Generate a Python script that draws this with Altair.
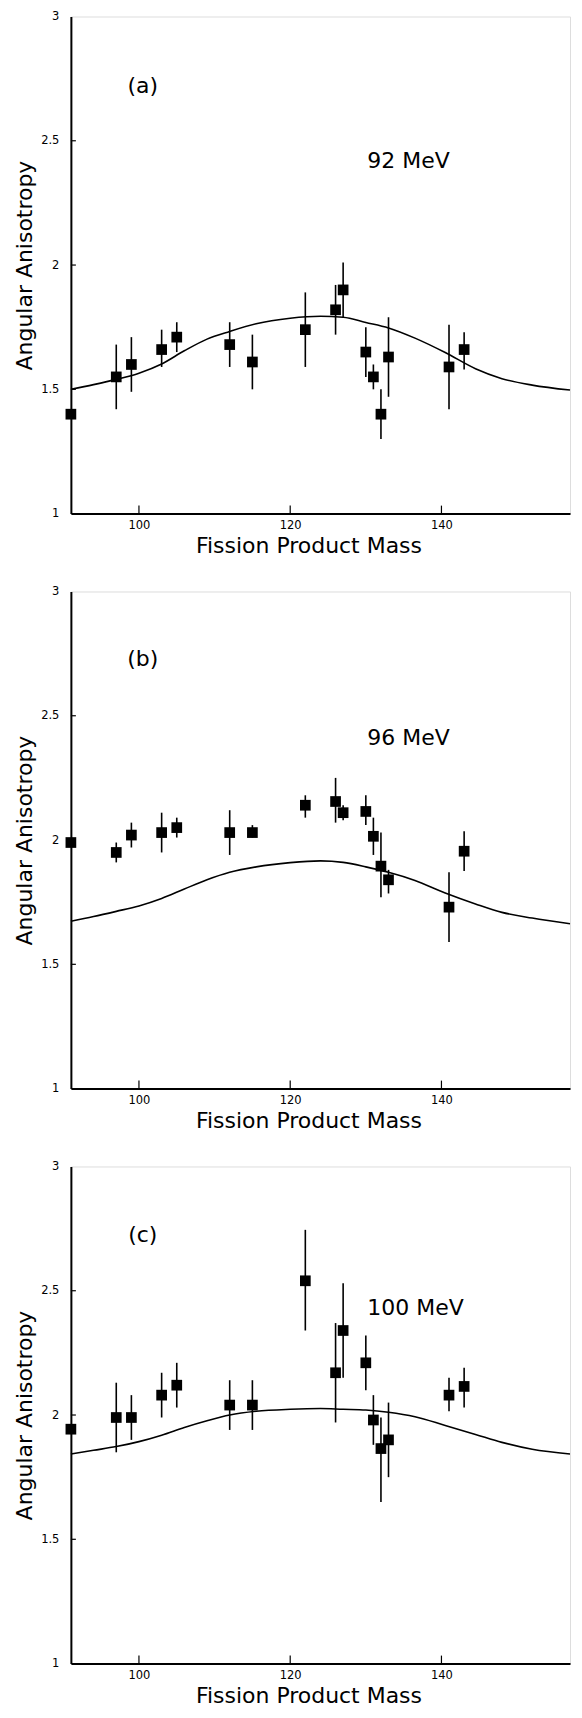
import altair as alt
import pandas as pd

# ---------------- data ----------------
masses = [91, 97, 99, 103, 105, 112, 115, 122, 126, 127, 130, 131, 132, 133, 141, 143]

a_val = [1.40, 1.55, 1.60, 1.66, 1.71, 1.68, 1.61, 1.74, 1.82, 1.90, 1.65, 1.55, 1.40, 1.63, 1.59, 1.66]
a_lo = [1.40, 1.42, 1.49, 1.59, 1.65, 1.59, 1.50, 1.59, 1.72, 1.79, 1.55, 1.50, 1.30, 1.47, 1.42, 1.58]
a_hi = [1.40, 1.68, 1.71, 1.74, 1.77, 1.77, 1.72, 1.89, 1.92, 2.01, 1.75, 1.60, 1.50, 1.79, 1.76, 1.73]

b_val = [1.99, 1.95, 2.02, 2.03, 2.05, 2.03, 2.03, 2.14, 2.155, 2.11, 2.115, 2.015, 1.895, 1.84, 1.73, 1.955]
b_lo = [1.99, 1.91, 1.97, 1.95, 2.01, 1.94, 2.01, 2.09, 2.07, 2.08, 2.06, 1.94, 1.77, 1.785, 1.59, 1.875]
b_hi = [1.99, 1.99, 2.07, 2.11, 2.09, 2.12, 2.06, 2.18, 2.25, 2.14, 2.18, 2.09, 2.03, 1.88, 1.87, 2.035]

c_val = [1.943, 1.99, 1.99, 2.08, 2.12, 2.04, 2.04, 2.54, 2.17, 2.34, 2.21, 1.98, 1.865, 1.90, 2.08, 2.115]
c_lo = [1.943, 1.85, 1.90, 1.99, 2.03, 1.94, 1.94, 2.34, 1.97, 2.15, 2.10, 1.88, 1.65, 1.75, 2.015, 2.03]
c_hi = [1.943, 2.13, 2.08, 2.17, 2.21, 2.14, 2.14, 2.745, 2.37, 2.53, 2.32, 2.08, 1.99, 2.05, 2.15, 2.19]

curve_x = [91, 94, 97, 100, 103, 106, 109, 112, 115.5, 120, 124, 127, 130, 133, 136.5, 140.5, 144.5, 148, 152, 157]
a_curve = [1.500, 1.519, 1.540, 1.565, 1.602, 1.655, 1.702, 1.733, 1.764, 1.786, 1.794, 1.790, 1.769, 1.747, 1.706, 1.648, 1.583, 1.543, 1.517, 1.497]
b_curve = [1.673, 1.692, 1.713, 1.735, 1.765, 1.803, 1.840, 1.870, 1.892, 1.909, 1.916, 1.910, 1.892, 1.870, 1.837, 1.787, 1.743, 1.709, 1.686, 1.663]
c_curve = [1.843, 1.858, 1.873, 1.893, 1.919, 1.950, 1.977, 2.000, 2.015, 2.023, 2.026, 2.023, 2.020, 2.011, 1.993, 1.958, 1.922, 1.890, 1.862, 1.843]

panel_labels = ["(a)", "(b)", "(c)"]
energy_labels = ["92 MeV", "96 MeV", "100 MeV"]
label_pos = [(100.5, 2.72), (100.5, 2.73), (100.5, 2.725)]
energy_pos = [(130.2, 2.42), (130.2, 2.41), (130.2, 2.43)]

x_ticks = [100, 120, 140]
y_ticks = [1.5, 2.0, 2.5]
x_domain = [91, 157]
y_domain = [1, 3]

FONT = "DejaVu Sans"
W, H = 500, 498


def panel(vals, los, his, curve, plabel, elabel, lpos, epos):
    pts = pd.DataFrame({"mass": masses, "val": vals, "lo": los, "hi": his})
    crv = pd.DataFrame({"mass": curve_x, "val": curve})
    xs = alt.Scale(domain=x_domain, nice=False, zero=False)
    ys = alt.Scale(domain=y_domain, nice=False, zero=False)
    xax = alt.Axis(values=x_ticks, format="d", grid=False, tickSize=0, labelPadding=6,
                   labelFontSize=11.5, labelFont=FONT, labelColor="black",
                   domainColor="black", domainWidth=2,
                   title="Fission Product Mass", titleFont=FONT, titleFontSize=22,
                   titleFontWeight="normal", titleColor="black", titlePadding=4, titleX=238)
    yax = alt.Axis(values=[1, 1.5, 2, 2.5, 3], format="~g", grid=False, tickSize=0, labelPadding=12,
                   labelFontSize=11.5, labelFont=FONT, labelColor="black",
                   domainColor="black", domainWidth=2,
                   title="Angular Anisotropy", titleFont=FONT, titleFontSize=22,
                   titleFontWeight="normal", titleColor="black", titlePadding=4)

    line = alt.Chart(crv).mark_line(color="black", strokeWidth=1.6, interpolate="monotone").encode(
        x=alt.X("mass:Q", scale=xs, axis=xax),
        y=alt.Y("val:Q", scale=ys, axis=yax),
    )
    err = alt.Chart(pts).mark_rule(color="black", strokeWidth=1.6).encode(
        x="mass:Q", y="lo:Q", y2="hi:Q"
    )
    sq = alt.Chart(pts).mark_square(color="black", opacity=1, size=115, filled=True).encode(
        x="mass:Q", y="val:Q"
    )
    xt = alt.Chart(pd.DataFrame({"t": x_ticks})).mark_rule(color="black", strokeWidth=1.2).encode(
        x="t:Q", y=alt.value(H), y2=alt.value(H - 8)
    )
    yt = alt.Chart(pd.DataFrame({"t": y_ticks})).mark_rule(color="black", strokeWidth=1.2).encode(
        y="t:Q", x=alt.value(0), x2=alt.value(5)
    )
    lab = alt.Chart(pd.DataFrame({"m": [lpos[0]], "v": [lpos[1]], "s": [plabel]})).mark_text(
        font=FONT, fontSize=22, color="black", align="center", baseline="middle"
    ).encode(x="m:Q", y="v:Q", text="s:N")
    en = alt.Chart(pd.DataFrame({"m": [epos[0]], "v": [epos[1]], "s": [elabel]})).mark_text(
        font=FONT, fontSize=22, color="black", align="left", baseline="middle"
    ).encode(x="m:Q", y="v:Q", text="s:N")
    return alt.layer(line, err, sq, xt, yt, lab, en).properties(width=W, height=H)


pa = panel(a_val, a_lo, a_hi, a_curve, panel_labels[0], energy_labels[0], label_pos[0], energy_pos[0])
pb = panel(b_val, b_lo, b_hi, b_curve, panel_labels[1], energy_labels[1], label_pos[1], energy_pos[1])
pc = panel(c_val, c_lo, c_hi, c_curve, panel_labels[2], energy_labels[2], label_pos[2], energy_pos[2])

chart = alt.vconcat(pa, pb, pc, spacing=28).properties(
    padding={"left": 5, "top": 0, "right": 0, "bottom": 0}
).configure_view(stroke="#444", strokeWidth=1).configure(background="white")

chart.save("out.html", embed_options={"renderer": "svg", "actions": False})
